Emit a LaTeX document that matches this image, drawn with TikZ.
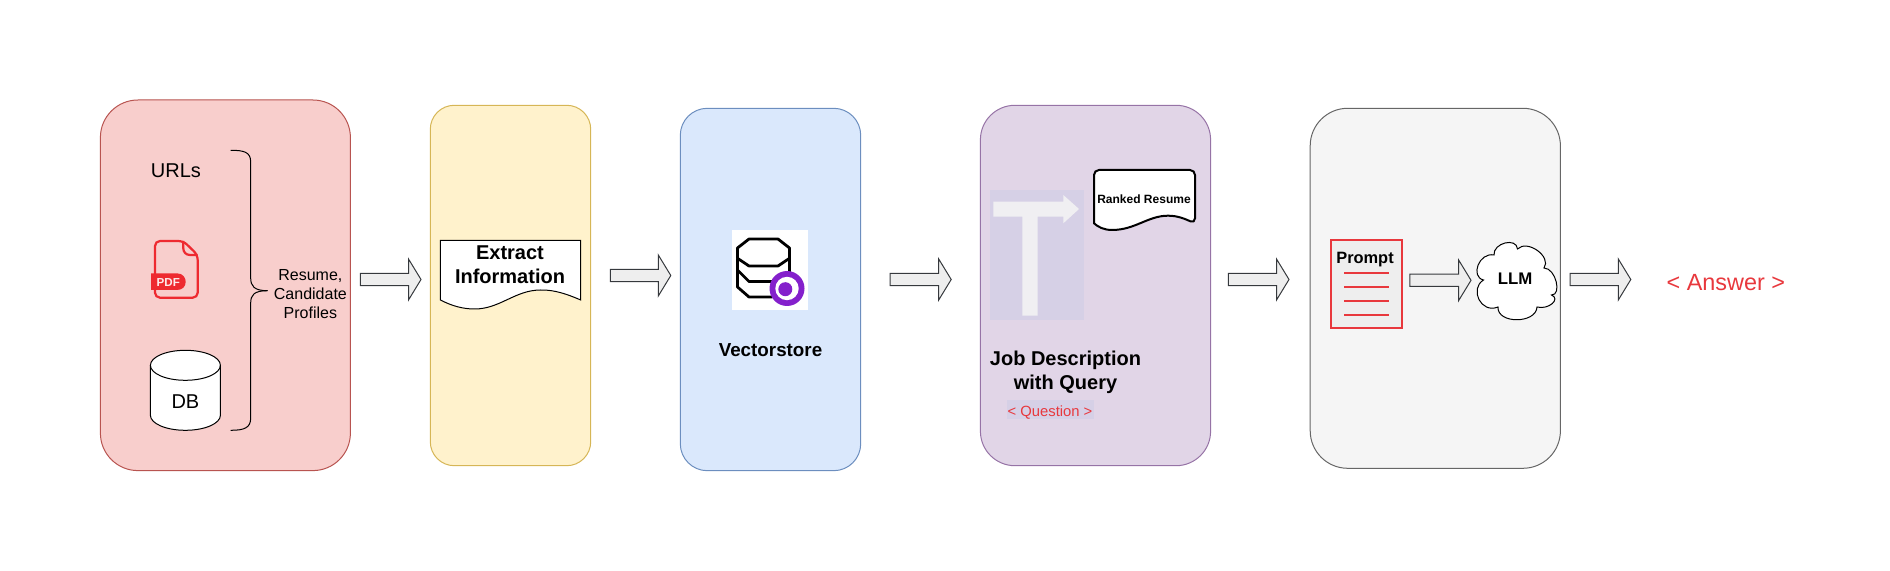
\documentclass[tikz,border=0pt]{standalone}
\usepackage{fontspec}
\setmainfont{Liberation Sans}
\usetikzlibrary{calc}
\definecolor{redfill}{HTML}{F8CECC}
\definecolor{redline}{HTML}{B85450}
\definecolor{yellowfill}{HTML}{FFF2CC}
\definecolor{yellowline}{HTML}{D6B656}
\definecolor{bluefill}{HTML}{DAE8FC}
\definecolor{blueline}{HTML}{6C8EBF}
\definecolor{purplefill}{HTML}{E1D5E7}
\definecolor{purpleline}{HTML}{9673A6}
\definecolor{greyfill}{HTML}{F5F5F5}
\definecolor{greyline}{HTML}{666666}
\definecolor{arrowfill}{HTML}{EEEEEE}
\definecolor{arrowline}{HTML}{36393D}
\definecolor{pdfred}{HTML}{EE2A30}
\definecolor{textred}{HTML}{E8383D}
\definecolor{lavender}{HTML}{D6D0E6}
\definecolor{turnfill}{HTML}{F0EFF2}
\definecolor{ringpurple}{HTML}{8420CC}
\tikzset{
	panel/.style={draw, rectangle, rounded corners=#1, inner sep=0pt, line width=0.5pt},
	flowarrow/.style={fill=arrowfill, draw=arrowline, line width=0.5pt},
	docshape/.style={fill=white, draw=black, line width=0.5pt},
	redstroke/.style={draw=textred, line width=1pt},
	iconstroke/.style={line width=1.4pt, line join=round},
	lbl/.style={inner sep=0pt, align=center, font=\fontsize{#1}{12}\selectfont},
	boldlbl/.style={inner sep=0pt, align=center, font=\fontsize{#1}{12}\selectfont\bfseries}
}
\def\blockarrow(#1)(#2){\draw[flowarrow] ($(#1)+(0,-6.2)$) -- ($(#2)+(-12.5,-6.2)$) -- ($(#2)+(-12.5,-20.5)$) -- (#2) -- ($(#2)+(-12.5,20.5)$) -- ($(#2)+(-12.5,6.2)$) -- ($(#1)+(0,6.2)$) -- cycle;}

\begin{document}
\begin{tikzpicture}[x=0.5pt, y=-0.5pt]
			%%%%% START %%%%%
			\useasboundingbox (0, 0) rectangle (1890, 571);
			
			\node[panel=18.75pt, fill=redfill, draw=redline, minimum width=125pt, minimum height=185.3pt] (sources) at (225.4, 285.3) {};
			\node[panel=12pt, fill=yellowfill, draw=yellowline, minimum width=80.2pt, minimum height=180.2pt] (extract) at (510.5, 285.5) {};
			\node[panel=13.5pt, fill=bluefill, draw=blueline, minimum width=90.2pt, minimum height=181.2pt] (store) at (770.5, 289.5) {};
			\node[panel=17.25pt, fill=purplefill, draw=purpleline, minimum width=115.1pt, minimum height=180.2pt] (jobdesc) at (1095.5, 285.5) {};
			\node[panel=18.75pt, fill=greyfill, draw=greyline, minimum width=125.1pt, minimum height=180pt] (answering) at (1435.3, 288.3) {};
			
			\node[lbl=10] (urls) at (176, 171.2) {URLs};
			
			\draw[draw=pdfred, line width=1.1pt, rounded corners=2.5pt] (155, 241) -- (183.3, 241) -- (197.7, 255) -- (197.7, 297.7) -- (155, 297.7) -- cycle;
			\draw[draw=pdfred, line width=1.1pt] (183.3, 241) -- (183.3, 248.3) .. controls (183.3, 252) and (186, 255) .. (190, 255) -- (197.7, 255);
			\fill[pdfred] (151, 273.3) -- (177, 273.3) .. controls (183, 273.3) and (185.7, 278) .. (185.7, 281.7) .. controls (185.7, 286) and (183, 290) .. (177, 290) -- (151, 290) -- cycle;
			\node[boldlbl=5.8, text=white!90!pdfred] (pdfmark) at (168.3, 282.3) {PDF};
			
			\draw[docshape] (150.4, 365.3) -- (150.4, 415.3) .. controls (150.4, 423.6) and (166, 430.3) .. (185.4, 430.3) .. controls (204.8, 430.3) and (220.4, 423.6) .. (220.4, 415.3) -- (220.4, 365.3) .. controls (220.4, 357) and (204.8, 350.3) .. (185.4, 350.3) .. controls (166, 350.3) and (150.4, 357) .. (150.4, 365.3) -- cycle;
			\draw[line width=0.5pt] (150.4, 365.3) .. controls (150.4, 373.6) and (166, 380.3) .. (185.4, 380.3) .. controls (204.8, 380.3) and (220.4, 373.6) .. (220.4, 365.3);
			\node[lbl=10] (dblabel) at (185.4, 401.5) {DB};
			
			\draw[line width=0.5pt] (230.7, 150.3) .. controls (244, 150.3) and (250.7, 152) .. (250.7, 162) -- (250.7, 278) .. controls (250.7, 286) and (254, 290.7) .. (267.5, 290.7);
			\draw[line width=0.5pt] (230.7, 430.3) .. controls (244, 430.3) and (250.7, 428) .. (250.7, 418) -- (250.7, 303) .. controls (250.7, 295) and (254, 290.7) .. (267.5, 290.7);
			\node[inner sep=0pt, align=center, font=\fontsize{8}{9.5}\selectfont] (profiles) at (310.4, 294.2) {Resume,\\Candidate\\Profiles};
			
			\coordinate (a1s) at (360.4, 279.5);
			\coordinate (a1e) at (421, 279.5);
			\blockarrow(a1s)(a1e);
			
			\draw[docshape] (440.4, 240.3) -- (580.7, 240.3) -- (580.7, 300) .. controls (560, 291) and (550, 290) .. (540.7, 290) .. controls (515, 290) and (500, 309) .. (474.6, 309) .. controls (463, 309) and (452, 306) .. (440.4, 300) -- cycle;
			\node[boldlbl=10] (extracttext) at (510, 265.2) {Extract\\Information};
			
			\coordinate (a2s) at (610.4, 275.5);
			\coordinate (a2e) at (670.8, 275.5);
			\blockarrow(a2s)(a2e);
			
			\fill[white] (732.3, 230) rectangle (808.3, 310);
			\draw[iconstroke] (749, 239) -- (778, 239) -- (789.5, 248) -- (789.5, 258.3) -- (778, 266) -- (749, 266) -- (737.5, 258.3) -- (737.5, 248) -- cycle;
			\draw[iconstroke] (737.5, 258.3) -- (737.5, 287) -- (749, 297) -- (772, 297);
			\draw[iconstroke] (737.5, 270) -- (749, 281.5) -- (772, 281.5);
			\draw[iconstroke] (789.5, 258.3) -- (789.5, 275);
			\fill[ringpurple] (787, 288.5) circle (17.5);
			\fill[white] (787, 288.5) circle (11.7);
			\fill[ringpurple] (785.3, 289.2) circle (7);
			\node[boldlbl=9.4] (storetext) at (770.5, 350) {Vectorstore};
			
			\coordinate (a3s) at (890, 279.5);
			\coordinate (a3e) at (951.2, 279.5);
			\blockarrow(a3s)(a3e);
			
			\fill[lavender] (990, 190) rectangle (1084.3, 320);
			\fill[turnfill] (993.3, 201.7) -- (1063.3, 201.7) -- (1063.3, 195) -- (1079, 209) -- (1063.3, 223.3) -- (1063.3, 216.7) -- (1037.7, 216.7) -- (1037.7, 315.7) -- (1022.3, 315.7) -- (1022.3, 216.7) -- (993.3, 216.7) -- cycle;
			
			\draw[docshape, line width=1pt, rounded corners=2.5pt] (1094, 223.3) -- (1094, 170) -- (1195, 170) -- (1195, 223.3) [sharp corners] .. controls (1185, 219) and (1178, 215.7) .. (1168, 215.7) .. controls (1148, 215.7) and (1135, 230) .. (1112, 230) .. controls (1104, 230) and (1098, 227) .. (1094, 223.3) -- cycle;
			\node[boldlbl=6] (rankedtext) at (1144, 199.3) {Ranked Resume};
			
			\node[boldlbl=10] (jobtext) at (1065.5, 372.4) {Job Description\\with Query};
			\fill[lavender] (1006.5, 400) rectangle (1094, 419.3);
			\node[lbl=7.4, text=textred] (question) at (1050, 412.5) {< Question >};
			
			\coordinate (a4s) at (1228.4, 279.5);
			\coordinate (a4e) at (1289, 279.5);
			\blockarrow(a4s)(a4e);
			
			\draw[redstroke, fill=arrowfill] (1330.7, 240) rectangle (1402.2, 328.3);
			\foreach \ly in {272.7, 286.7, 300.7, 314.7}
				\draw[redstroke] (1344, \ly) -- (1389.4, \ly);
			\node[boldlbl=8.2] (prompt) at (1365, 259.9) {Prompt};
			
			\coordinate (a5s) at (1409.9, 280.3);
			\coordinate (a5e) at (1471, 280.3);
			\blockarrow(a5s)(a5e);
			
			\draw[docshape] (1494, 255) .. controls (1493, 243) and (1516.5, 237) .. (1517.5, 249) .. controls (1527.2, 239) and (1552, 256.7) .. (1544, 268) .. controls (1556, 268.3) and (1562, 295.3) .. (1551.5, 295) .. controls (1561, 299) and (1548.7, 310) .. (1537, 307) .. controls (1536, 324) and (1497, 324) .. (1498, 307) .. controls (1481, 314) and (1469, 289) .. (1483.5, 280) .. controls (1470, 276.7) and (1479, 252) .. (1494, 255) -- cycle;
			\node[boldlbl=8.4] (llmtext) at (1515, 279) {LLM};
			
			\coordinate (a6s) at (1570, 279.5);
			\coordinate (a6e) at (1630.8, 279.5);
			\blockarrow(a6s)(a6e);
			
			\node[lbl=11.7, text=textred] (answer) at (1725.8, 283) {< Answer >};
			
			%%%%% END %%%%%
		\end{tikzpicture}
\end{document}
